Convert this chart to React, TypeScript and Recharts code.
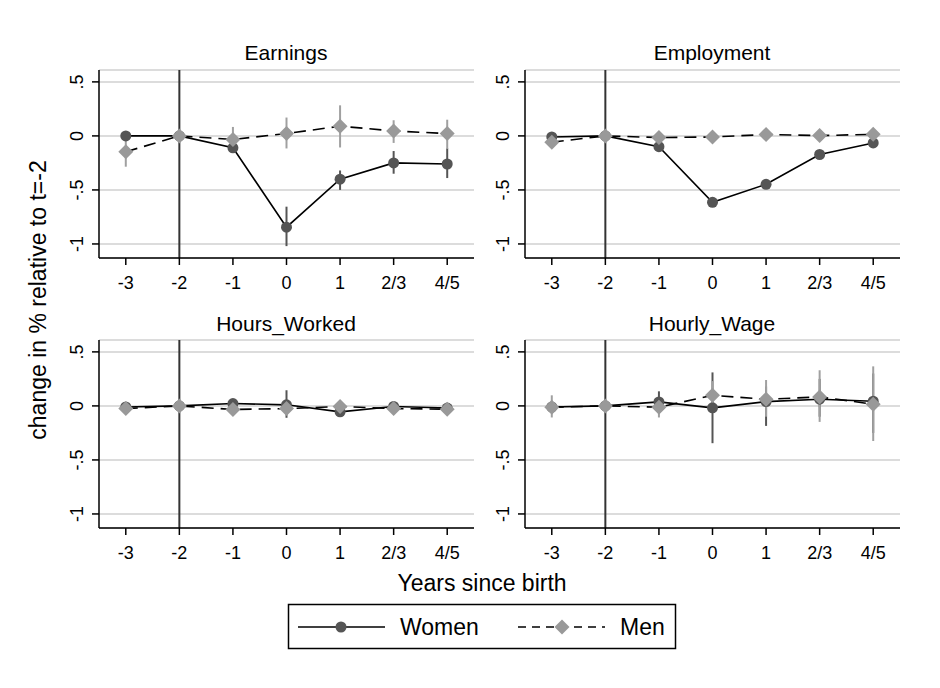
import { CartesianGrid, ComposedChart, ErrorBar, Line, ReferenceLine, XAxis, YAxis } from 'recharts';

const periods = [-3, -2, -1, 0, 1, 2, 3];
const periodLabels = ['-3', '-2', '-1', '0', '1', '2/3', '4/5'];
const yTicks = [-1, -0.5, 0, 0.5];
const yTickLabels = ['-1', '-.5', '0', '.5'];

// Earnings
const earnWomen = [0, 0, -0.11, -0.845, -0.4, -0.25, -0.26];
const earnWomenLo = [-0.02, 0, -0.14, -1.02, -0.5, -0.35, -0.39];
const earnWomenHi = [0.02, 0, -0.08, -0.655, -0.32, -0.14, -0.115];
const earnMen = [-0.147, 0, -0.033, 0.022, 0.09, 0.046, 0.022];
const earnMenLo = [-0.285, 0, -0.15, -0.116, -0.107, -0.065, -0.12];
const earnMenHi = [-0.02, 0, 0.083, 0.17, 0.283, 0.145, 0.15];

// Employment
const empWomen = [-0.01, 0, -0.1, -0.615, -0.448, -0.172, -0.065];
const empWomenLo = [-0.03, 0, -0.12, -0.64, -0.47, -0.2, -0.105];
const empWomenHi = [0.01, 0, -0.08, -0.59, -0.425, -0.145, -0.03];
const empMen = [-0.058, 0, -0.015, -0.01, 0.013, 0.003, 0.015];
const empMenLo = [-0.08, 0, -0.03, -0.025, 0, -0.01, 0];
const empMenHi = [-0.035, 0, 0, 0.005, 0.025, 0.015, 0.03];

// Hours worked
const hoursWomen = [-0.01, 0, 0.022, 0.01, -0.055, -0.005, -0.02];
const hoursWomenLo = [-0.025, 0, 0, -0.11, -0.1, -0.025, -0.04];
const hoursWomenHi = [0.005, 0, 0.045, 0.145, -0.01, 0.015, 0];
const hoursMen = [-0.025, 0, -0.033, -0.025, -0.005, -0.025, -0.03];
const hoursMenLo = [-0.04, 0, -0.05, -0.07, -0.03, -0.04, -0.045];
const hoursMenHi = [-0.01, 0, -0.015, 0.02, 0.02, -0.01, -0.015];

// Hourly wage
const wageWomen = [-0.01, 0, 0.037, -0.018, 0.04, 0.062, 0.043];
const wageWomenLo = [-0.03, 0, -0.05, -0.345, -0.185, -0.1, -0.25];
const wageWomenHi = [0.01, 0, 0.135, 0.31, 0.18, 0.25, 0.3];
const wageMen = [-0.012, 0, -0.012, 0.098, 0.062, 0.083, 0.016];
const wageMenLo = [-0.107, 0, -0.107, -0.05, -0.1, -0.148, -0.325];
const wageMenHi = [0.098, 0, 0.07, 0.23, 0.24, 0.33, 0.366];

const WOMEN_DARK = '#555555';
const MEN_LIGHT = '#999999';
const FONT = '"Liberation Sans", Arial, sans-serif';

function buildRows(w: number[], wLo: number[], wHi: number[], m: number[], mLo: number[], mHi: number[]) {
  return periods.map((p, i) => ({
    x: p,
    women: w[i],
    womenErr: [w[i] - wLo[i], wHi[i] - w[i]],
    men: m[i],
    menErr: [m[i] - mLo[i], mHi[i] - m[i]],
  }));
}

const XTick = (props: any) => {
  const { x, y, payload } = props;
  const idx = periods.indexOf(payload.value);
  return (
    <text x={x} y={y + 24} textAnchor="middle" fontSize={18} fontFamily={FONT} fill="#000">
      {periodLabels[idx]}
    </text>
  );
};

const YTick = (props: any) => {
  const { x, y, payload } = props;
  const idx = yTicks.indexOf(payload.value);
  const cx = x - 15;
  return (
    <text
      x={cx}
      y={y}
      dy={6.5}
      textAnchor="middle"
      fontSize={18}
      fontFamily={FONT}
      fill="#000"
      transform={`rotate(-90 ${cx} ${y})`}
    >
      {yTickLabels[idx]}
    </text>
  );
};

const WomenDot = (props: any) => {
  const { cx, cy, index } = props;
  if (cx == null || cy == null) return <g key={`w${index}`} />;
  return <circle key={`w${index}`} cx={cx} cy={cy} r={5.5} fill={WOMEN_DARK} />;
};

const MenDot = (props: any) => {
  const { cx, cy, index } = props;
  if (cx == null || cy == null) return <g key={`m${index}`} />;
  const s = 7.5;
  return (
    <polygon
      key={`m${index}`}
      points={`${cx},${cy - s} ${cx + s},${cy} ${cx},${cy + s} ${cx - s},${cy}`}
      fill={MEN_LIGHT}
    />
  );
};

function Panel({ left, top, rows }: { left: number; top: number; rows: any[] }) {
  return (
    <div style={{ position: 'absolute', left, top }}>
      <ComposedChart width={441} height={240} data={rows} margin={{ top: 10, right: 7, bottom: 0, left: 0 }}>
        <CartesianGrid horizontal vertical={false} stroke="#dcdcdc" strokeWidth={2} />
        <XAxis
          dataKey="x"
          type="number"
          domain={[-3.5, 3.5]}
          ticks={periods}
          tick={<XTick />}
          tickSize={7}
          tickMargin={0}
          height={42}
          stroke="#000"
          strokeWidth={1.5}
          tickLine={{ stroke: '#000', strokeWidth: 1.5 }}
          allowDataOverflow
        />
        <YAxis
          type="number"
          domain={[-1.13, 0.61]}
          ticks={yTicks}
          tick={<YTick />}
          tickSize={7}
          tickMargin={0}
          width={59}
          stroke="#000"
          strokeWidth={1.5}
          tickLine={{ stroke: '#000', strokeWidth: 1.5 }}
          allowDataOverflow
        />
        <ReferenceLine x={-2} stroke="#333333" strokeWidth={2} />
        <Line
          dataKey="women"
          stroke="#000"
          strokeWidth={1.6}
          dot={<WomenDot />}
          activeDot={false}
          isAnimationActive={false}
        >
          <ErrorBar dataKey="womenErr" width={0} stroke={WOMEN_DARK} strokeWidth={2} direction="y" />
        </Line>
        <Line
          dataKey="men"
          stroke="#000"
          strokeWidth={1.6}
          strokeDasharray="12 7"
          dot={<MenDot />}
          activeDot={false}
          isAnimationActive={false}
        >
          <ErrorBar dataKey="menErr" width={0} stroke="#a0a0a0" strokeWidth={2} direction="y" />
        </Line>
      </ComposedChart>
    </div>
  );
}

export default function App() {
  return (
    <div
      style={{
        position: 'absolute',
        left: 0,
        top: 0,
        width: 940,
        height: 688,
        background: '#fff',
        fontFamily: FONT,
        overflow: 'hidden',
      }}
    >
      <Panel left={40} top={60} rows={buildRows(earnWomen, earnWomenLo, earnWomenHi, earnMen, earnMenLo, earnMenHi)} />
      <Panel left={466} top={60} rows={buildRows(empWomen, empWomenLo, empWomenHi, empMen, empMenLo, empMenHi)} />
      <Panel left={40} top={330} rows={buildRows(hoursWomen, hoursWomenLo, hoursWomenHi, hoursMen, hoursMenLo, hoursMenHi)} />
      <Panel left={466} top={330} rows={buildRows(wageWomen, wageWomenLo, wageWomenHi, wageMen, wageMenLo, wageMenHi)} />

      <svg width={940} height={688} style={{ position: 'absolute', left: 0, top: 0, pointerEvents: 'none' }}>
        <g fontFamily={FONT} fill="#000">
          <text x={286} y={60} textAnchor="middle" fontSize={21}>Earnings</text>
          <text x={712} y={60} textAnchor="middle" fontSize={21}>Employment</text>
          <text x={286} y={331} textAnchor="middle" fontSize={21}>Hours_Worked</text>
          <text x={712} y={331} textAnchor="middle" fontSize={21}>Hourly_Wage</text>
          <text x={46} y={300} textAnchor="middle" fontSize={23} transform="rotate(-90 46 300)">
            change in % relative to t=-2
          </text>
          <text x={482} y={591} textAnchor="middle" fontSize={23}>Years since birth</text>
        </g>
        <rect x={288.5} y={604.5} width={387} height={44} fill="none" stroke="#000" strokeWidth={1.5} />
        <line x1={298} y1={627} x2={385} y2={627} stroke="#000" strokeWidth={1.6} />
        <circle cx={341} cy={627} r={5.5} fill={WOMEN_DARK} />
        <text x={400} y={635} fontSize={23} fontFamily={FONT}>Women</text>
        <line x1={518} y1={627} x2={605} y2={627} stroke="#000" strokeWidth={1.6} strokeDasharray="8 6" />
        <polygon points="562,619.5 569.5,627 562,634.5 554.5,627" fill={MEN_LIGHT} />
        <text x={620} y={635} fontSize={23} fontFamily={FONT}>Men</text>
      </svg>
    </div>
  );
}
